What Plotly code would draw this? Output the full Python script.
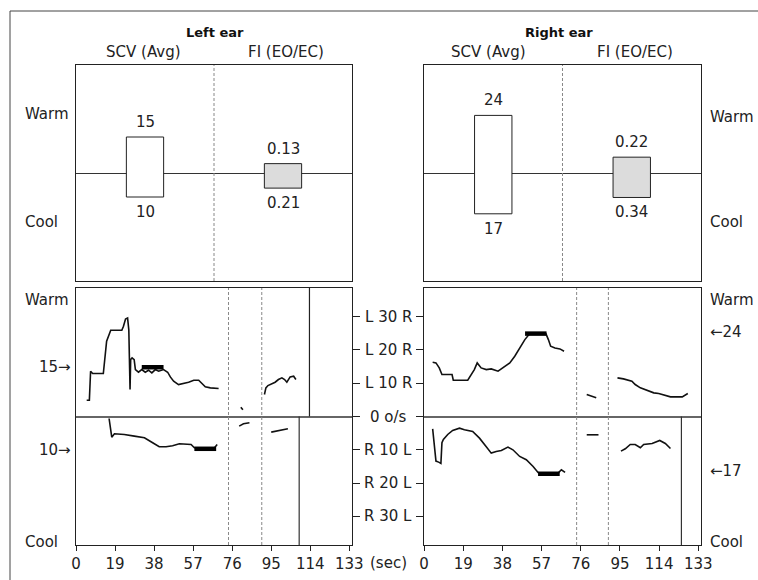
import plotly.graph_objects as go

W, H = 758, 580

# ---------------- data ----------------
ear_titles = ["Left ear", "Right ear"]
summary_cats = ["SCV (Avg)", "FI (EO/EC)"]
scv_warm = [15, 24]
scv_cool = [10, 17]
fi_warm = [0.13, 0.22]
fi_cool = [0.21, 0.34]

time_ticks = [0, 19, 38, 57, 76, 95, 114, 133]
vel_ticks = [30, 20, 10, 0, -10, -20, -30]
vel_labels = ["L 30 R", "L 20 R", "L 10 R", "0 o/s", "R 10 L", "R 20 L", "R 30 L"]

# Left ear, warm (upper half)
left_warm_t = [5.2, 6.5, 7.1, 8.1, 13.3, 13.8, 14.9, 16.9, 22.3, 23.1, 24.1, 25.1, 25.7, 26.3, 26.6,
               27.3, 28.3, 28.9, 30.4, 32.0, 33.7, 35.3, 36.9, 38.6, 40.2, 42.6, 44.6, 45.9, 47.5,
               49.9, 52.4, 54.8, 57.3, 59.7, 61.3, 62.9, 65.4, 69.4,
               None, 80.2, 81.2,
               None, 91.7, 92.4, 93.4, 95.3, 96.9, 98.5, 100.2, 101.5, 102.6, 104.2, 105.9, 107.0]
left_warm_v = [4.9, 4.9, 13.6, 12.9, 12.9, 16.6, 22.6, 25.9, 25.9, 27.1, 29.3, 29.6, 26.0, 8.1, 17.1,
               17.6, 17.1, 14.1, 13.3, 14.1, 13.3, 13.9, 13.1, 14.1, 13.6, 14.1, 13.3, 11.9, 10.6,
               9.6, 9.9, 10.3, 10.9, 10.9, 9.9, 8.9, 8.6, 8.4,
               None, 2.8, 2.0,
               None, 6.6, 8.6, 9.3, 9.9, 10.3, 11.1, 11.6, 11.1, 10.3, 11.9, 12.1, 11.1]
left_warm_avg_t = [32.0, 42.6]
left_warm_avg_v = [14.8, 14.8]

# Left ear, cool (lower half)
left_cool_t = [16.1, 16.6, 17.4, 18.7, 23.5, 28.4, 33.3, 37.3, 40.5, 43.8, 47.0, 50.3, 53.5, 56.0,
               57.6, 67.4, 68.7,
               None, 79.4, 81.5, 84.4,
               None, 95.0, 99.4, 103.1]
left_cool_v = [-0.6, -3.0, -6.2, -5.2, -5.4, -5.9, -6.4, -7.9, -9.1, -9.1, -8.8, -8.2, -8.4, -8.4,
               -9.4, -9.4, -8.4,
               None, -2.9, -2.2, -1.9,
               None, -4.7, -4.1, -3.7]
left_cool_avg_t = [57.6, 68.2]
left_cool_avg_v = [-9.7, -9.7]

# Right ear, warm (upper half)
right_warm_t = [4.2, 5.8, 7.4, 8.7, 13.6, 14.2, 21.2, 22.8, 24.4, 25.8, 27.7, 30.2, 32.6, 35.9,
                38.3, 41.6, 44.0, 46.4, 48.9, 51.3, 59.1, 60.3, 61.4, 63.5, 65.9, 67.9,
                None, 78.9, 83.5,
                None, 93.8, 96.7, 100.8, 102.4, 104.9, 108.1, 111.4, 113.8, 116.2, 119.5, 125.2,
                126.8, 127.9]
right_warm_v = [16.3, 16.1, 14.6, 12.6, 12.6, 10.9, 10.9, 12.6, 14.1, 16.1, 14.6, 14.1, 14.3, 13.6,
                14.6, 16.1, 18.1, 20.6, 23.1, 24.9, 24.9, 23.1, 21.1, 20.6, 20.3, 19.6,
                None, 6.6, 5.6,
                None, 11.6, 11.3, 10.6, 9.6, 8.6, 7.9, 7.1, 6.9, 6.5, 5.9, 5.9, 6.6, 6.9]
right_warm_avg_t = [49.0, 59.4]
right_warm_avg_v = [24.9, 24.9]

# Right ear, cool (lower half)
right_cool_t = [4.2, 5.0, 5.8, 7.1, 8.2, 8.7, 9.4, 11.5, 13.9, 17.2, 19.6, 23.6, 26.9, 30.1, 32.6,
                35.0, 37.5, 40.7, 43.1, 46.4, 49.6, 52.9, 55.3, 65.0, 66.6, 68.4,
                None, 78.9, 84.6,
                None, 95.5, 97.6, 100.0, 102.4, 104.9, 106.5, 110.6, 114.3, 117.0, 119.5]
right_cool_v = [-3.7, -7.9, -13.4, -13.7, -14.1, -7.9, -6.9, -5.4, -4.2, -3.5, -4.0, -4.5, -6.5,
                -9.0, -11.0, -10.5, -10.2, -9.2, -10.0, -12.0, -13.0, -15.0, -16.8, -17.0, -16.0,
                -16.8,
                None, -5.5, -5.5,
                None, -10.4, -9.7, -8.4, -8.4, -9.4, -8.4, -8.1, -7.2, -8.1, -9.6]
right_cool_avg_t = [55.3, 65.8]
right_cool_avg_v = [-17.2, -17.2]

# event markers (sec)
dashed_events = [[74.2, 90.4], [74.0, 89.4]]
warm_end_events = [[113.6], []]
cool_end_events = [[108.6], [124.8]]

# arrow labels of the averages
avg_marks_left = [("15\u2192", 15), ("10\u2192", -10)]
avg_marks_right = [("\u219024", 25.5), ("\u219017", -16.5)]

# ---------------- layout helpers ----------------
def fx(p):
    return p / W


def fy(p):
    return 1 - p / H


FONT = "DejaVu Sans"
TXT = "#222222"
FS = 15
VR = 38.6
TR = 134.3

xdom = [[fx(76), fx(352)], [fx(424), fx(701)]]
ytop = [fy(281), fy(65)]
ybot = [fy(545), fy(288)]

fig = go.Figure()

frame = dict(showline=True, linecolor="#222", linewidth=1, mirror=True, showgrid=False,
             automargin=False)

layout = dict(
    template="none",
    width=W, height=H, margin=dict(l=0, r=0, t=0, b=0, pad=0), autosize=False,
    paper_bgcolor="white", plot_bgcolor="white", showlegend=False,
    font=dict(family=FONT, size=FS, color=TXT), barmode="overlay",
)

annotations = []
shapes = []


def note(**kw):
    kw.setdefault("showarrow", False)
    kw.setdefault("xanchor", "center")
    kw.setdefault("yanchor", "middle")
    annotations.append(kw)


for i in range(2):
    xt = "x" if i == 0 else "x2"
    yt = "y" if i == 0 else "y3"
    yf = "y2" if i == 0 else "y4"
    xb = "x3" if i == 0 else "x4"
    yb = "y5" if i == 0 else "y6"

    layout[("xaxis" if xt == "x" else "xaxis" + xt[1:])] = dict(
        domain=xdom[i], anchor=yt, range=[0, 2], showticklabels=False, ticks="",
        zeroline=False, fixedrange=True, **frame)
    layout["yaxis" + ("" if yt == "y" else yt[1:])] = dict(
        domain=ytop, anchor=xt, range=[-45, 45], showticklabels=False, ticks="",
        zeroline=True, zerolinecolor="#333", zerolinewidth=1, fixedrange=True, **frame)
    layout["yaxis" + yf[1:]] = dict(
        overlaying=yt, anchor=xt, range=[-1.5, 1.5], visible=False, fixedrange=True,
        automargin=False)

    layout["xaxis" + xb[1:]] = dict(
        domain=xdom[i], anchor=yb, range=[0, TR], tickvals=time_ticks, ticks="outside",
        ticklen=5, tickcolor="#222", zeroline=False, fixedrange=True,
        tickfont=dict(size=FS, color=TXT), **frame)
    layout["yaxis" + yb[1:]] = dict(
        domain=ybot, anchor=xb, range=[-VR, VR], tickvals=vel_ticks, ticks="outside",
        ticklen=7, tickcolor="#222", showticklabels=False, side="right" if i == 0 else "left",
        zeroline=True, zerolinecolor="#666", zerolinewidth=1.5, fixedrange=True, **frame)

    # summary boxes
    fig.add_trace(go.Bar(
        x=[0.5], y=[scv_warm[i] + scv_cool[i]], base=[-scv_cool[i]], width=0.27,
        marker=dict(color="white", line=dict(color="#222", width=1)),
        xaxis=xt, yaxis=yt, hoverinfo="skip"))
    fig.add_trace(go.Bar(
        x=[1.5], y=[fi_warm[i] + fi_cool[i]], base=[-fi_cool[i]], width=0.27,
        marker=dict(color="#dcdcdc", line=dict(color="#222", width=1)),
        xaxis=xt, yaxis=yf, hoverinfo="skip"))

    for xv, yref, top, bot in [(0.5, yt, scv_warm[i], scv_cool[i]),
                               (1.5, yf, fi_warm[i], fi_cool[i])]:
        note(x=xv, y=top, xref=xt, yref=yref, text=str(top), yanchor="bottom", yshift=4)
        note(x=xv, y=-bot, xref=xt, yref=yref, text=str(bot), yanchor="top", yshift=-4)

    shapes.append(dict(type="line", xref=xt, yref=yt + " domain", x0=1, x1=1, y0=0, y1=1,
                       line=dict(color="#888", width=1, dash="3px,2px")))

    # headings
    cx = [215, 559][i]
    note(x=fx(cx), y=fy(32), xref="paper", yref="paper",
         text="<b>%s</b>" % ear_titles[i], font=dict(size=13, color="#111"))
    for j, cat in enumerate(summary_cats):
        ccx = [[143, 286], [488, 635]][i][j]
        note(x=fx(ccx), y=fy(52), xref="paper", yref="paper", text=cat)

    # traces
    tw, vw, taw, vaw, tc, vc, tac, vac = [
        (left_warm_t, left_warm_v, left_warm_avg_t, left_warm_avg_v,
         left_cool_t, left_cool_v, left_cool_avg_t, left_cool_avg_v),
        (right_warm_t, right_warm_v, right_warm_avg_t, right_warm_avg_v,
         right_cool_t, right_cool_v, right_cool_avg_t, right_cool_avg_v)][i]
    for tt, vv in [(tw, vw), (tc, vc)]:
        fig.add_trace(go.Scatter(x=tt, y=vv, mode="lines", connectgaps=False,
                                 line=dict(color="#111", width=1.6),
                                 xaxis=xb, yaxis=yb, hoverinfo="skip"))
    for tt, vv in [(taw, vaw), (tac, vac)]:
        fig.add_trace(go.Scatter(x=tt, y=vv, mode="lines",
                                 line=dict(color="#000", width=4.5),
                                 xaxis=xb, yaxis=yb, hoverinfo="skip"))

    for ev in dashed_events[i]:
        shapes.append(dict(type="line", xref=xb, yref=yb + " domain", x0=ev, x1=ev, y0=0, y1=1,
                           line=dict(color="#888", width=1, dash="3px,2px")))
    for ev in warm_end_events[i]:
        shapes.append(dict(type="line", xref=xb, yref=yb, x0=ev, x1=ev, y0=0, y1=VR,
                           line=dict(color="#222", width=1.2)))
    for ev in cool_end_events[i]:
        shapes.append(dict(type="line", xref=xb, yref=yb, x0=ev, x1=ev, y0=-VR, y1=0,
                           line=dict(color="#333", width=1.2)))

# middle velocity labels
for v, lab in zip(vel_ticks, vel_labels):
    note(x=fx(388), y=v, xref="paper", yref="y5", text=lab)
note(x=fx(388), y=fy(563), xref="paper", yref="paper", text="(sec)")

# side labels
for txt, px_, py_ in [("Warm", 23, 114), ("Cool", 23, 222),
                      ("Warm", 708, 117), ("Cool", 708, 222),
                      ("Warm", 23, 300), ("Cool", 23, 542),
                      ("Warm", 708, 300), ("Cool", 708, 542)]:
    note(x=fx(px_), y=fy(py_), xref="paper", yref="paper", text=txt, xanchor="left")
for txt, v in avg_marks_left:
    note(x=fx(73), y=v, xref="paper", yref="y5", text=txt, xanchor="right")
for txt, v in avg_marks_right:
    note(x=fx(708), y=v, xref="paper", yref="y6", text=txt, xanchor="left")

# outer frame (top and left edges)
shapes.append(dict(type="line", xref="paper", yref="paper", x0=fx(10), x1=1.0,
                   y0=fy(11), y1=fy(11), line=dict(color="#444", width=1)))
shapes.append(dict(type="line", xref="paper", yref="paper", x0=fx(10), x1=fx(10),
                   y0=fy(11), y1=0, line=dict(color="#444", width=1)))

layout["annotations"] = annotations
layout["shapes"] = shapes
fig.update_layout(**layout)
fig.write_html("out.html", config={"displayModeBar": False},
               post_script="document.body.style.margin='0';document.body.style.overflow='hidden';")
